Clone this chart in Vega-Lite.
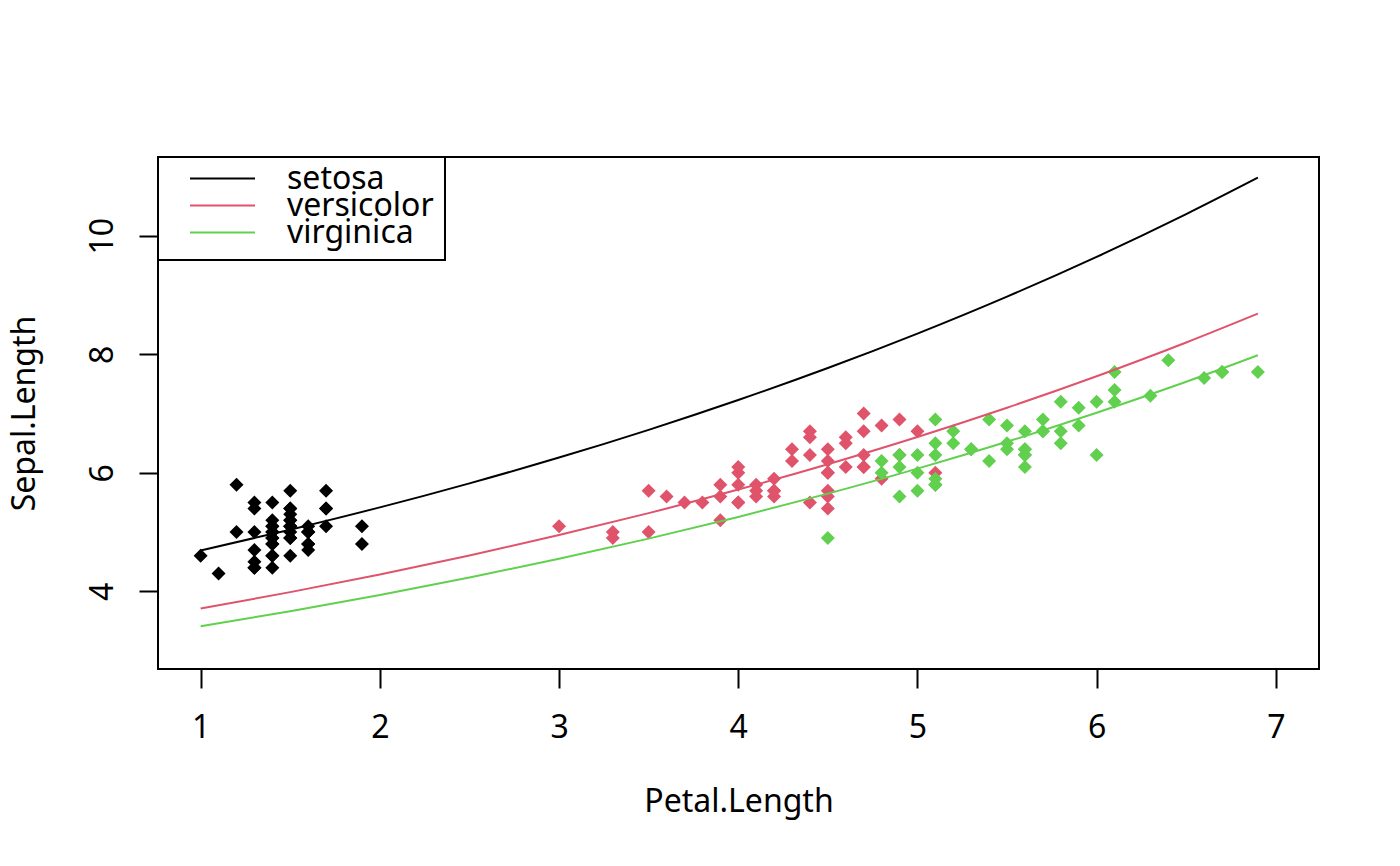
{
  "$schema": "https://vega.github.io/schema/vega-lite/v6.json",
  "width": 1161,
  "height": 512,
  "autosize": "none",
  "padding": {"left": 158, "top": 157, "right": 81, "bottom": 197},
  "background": "white",
  "datasets": {
    "iris": [
      {"species": "setosa", "petal": 1.4, "sepal": 5.1}, {"species": "setosa", "petal": 1.4, "sepal": 4.9},
      {"species": "setosa", "petal": 1.3, "sepal": 4.7}, {"species": "setosa", "petal": 1.5, "sepal": 4.6},
      {"species": "setosa", "petal": 1.4, "sepal": 5.0}, {"species": "setosa", "petal": 1.7, "sepal": 5.4},
      {"species": "setosa", "petal": 1.4, "sepal": 4.6}, {"species": "setosa", "petal": 1.5, "sepal": 5.0},
      {"species": "setosa", "petal": 1.4, "sepal": 4.4}, {"species": "setosa", "petal": 1.5, "sepal": 4.9},
      {"species": "setosa", "petal": 1.5, "sepal": 5.4}, {"species": "setosa", "petal": 1.6, "sepal": 4.8},
      {"species": "setosa", "petal": 1.4, "sepal": 4.8}, {"species": "setosa", "petal": 1.1, "sepal": 4.3},
      {"species": "setosa", "petal": 1.2, "sepal": 5.8}, {"species": "setosa", "petal": 1.5, "sepal": 5.7},
      {"species": "setosa", "petal": 1.3, "sepal": 5.4}, {"species": "setosa", "petal": 1.4, "sepal": 5.1},
      {"species": "setosa", "petal": 1.7, "sepal": 5.7}, {"species": "setosa", "petal": 1.5, "sepal": 5.1},
      {"species": "setosa", "petal": 1.7, "sepal": 5.4}, {"species": "setosa", "petal": 1.5, "sepal": 5.1},
      {"species": "setosa", "petal": 1.0, "sepal": 4.6}, {"species": "setosa", "petal": 1.7, "sepal": 5.1},
      {"species": "setosa", "petal": 1.9, "sepal": 4.8}, {"species": "setosa", "petal": 1.6, "sepal": 5.0},
      {"species": "setosa", "petal": 1.6, "sepal": 5.0}, {"species": "setosa", "petal": 1.5, "sepal": 5.2},
      {"species": "setosa", "petal": 1.4, "sepal": 5.2}, {"species": "setosa", "petal": 1.6, "sepal": 4.7},
      {"species": "setosa", "petal": 1.6, "sepal": 4.8}, {"species": "setosa", "petal": 1.5, "sepal": 5.4},
      {"species": "setosa", "petal": 1.5, "sepal": 5.2}, {"species": "setosa", "petal": 1.4, "sepal": 5.5},
      {"species": "setosa", "petal": 1.5, "sepal": 4.9}, {"species": "setosa", "petal": 1.2, "sepal": 5.0},
      {"species": "setosa", "petal": 1.3, "sepal": 5.5}, {"species": "setosa", "petal": 1.4, "sepal": 4.9},
      {"species": "setosa", "petal": 1.3, "sepal": 4.4}, {"species": "setosa", "petal": 1.5, "sepal": 5.1},
      {"species": "setosa", "petal": 1.3, "sepal": 5.0}, {"species": "setosa", "petal": 1.3, "sepal": 4.5},
      {"species": "setosa", "petal": 1.3, "sepal": 4.4}, {"species": "setosa", "petal": 1.6, "sepal": 5.0},
      {"species": "setosa", "petal": 1.9, "sepal": 5.1}, {"species": "setosa", "petal": 1.4, "sepal": 4.8},
      {"species": "setosa", "petal": 1.6, "sepal": 5.1}, {"species": "setosa", "petal": 1.4, "sepal": 4.6},
      {"species": "setosa", "petal": 1.5, "sepal": 5.3}, {"species": "setosa", "petal": 1.4, "sepal": 5.0},
      {"species": "versicolor", "petal": 4.7, "sepal": 7.0}, {"species": "versicolor", "petal": 4.5, "sepal": 6.4},
      {"species": "versicolor", "petal": 4.9, "sepal": 6.9}, {"species": "versicolor", "petal": 4.0, "sepal": 5.5},
      {"species": "versicolor", "petal": 4.6, "sepal": 6.5}, {"species": "versicolor", "petal": 4.5, "sepal": 5.7},
      {"species": "versicolor", "petal": 4.7, "sepal": 6.3}, {"species": "versicolor", "petal": 3.3, "sepal": 4.9},
      {"species": "versicolor", "petal": 4.6, "sepal": 6.6}, {"species": "versicolor", "petal": 3.9, "sepal": 5.2},
      {"species": "versicolor", "petal": 3.5, "sepal": 5.0}, {"species": "versicolor", "petal": 4.2, "sepal": 5.9},
      {"species": "versicolor", "petal": 4.0, "sepal": 6.0}, {"species": "versicolor", "petal": 4.7, "sepal": 6.1},
      {"species": "versicolor", "petal": 3.6, "sepal": 5.6}, {"species": "versicolor", "petal": 4.4, "sepal": 6.7},
      {"species": "versicolor", "petal": 4.5, "sepal": 5.6}, {"species": "versicolor", "petal": 4.1, "sepal": 5.8},
      {"species": "versicolor", "petal": 4.5, "sepal": 6.2}, {"species": "versicolor", "petal": 3.9, "sepal": 5.6},
      {"species": "versicolor", "petal": 4.8, "sepal": 5.9}, {"species": "versicolor", "petal": 4.0, "sepal": 6.1},
      {"species": "versicolor", "petal": 4.9, "sepal": 6.3}, {"species": "versicolor", "petal": 4.7, "sepal": 6.1},
      {"species": "versicolor", "petal": 4.3, "sepal": 6.4}, {"species": "versicolor", "petal": 4.4, "sepal": 6.6},
      {"species": "versicolor", "petal": 4.8, "sepal": 6.8}, {"species": "versicolor", "petal": 5.0, "sepal": 6.7},
      {"species": "versicolor", "petal": 4.5, "sepal": 6.0}, {"species": "versicolor", "petal": 3.5, "sepal": 5.7},
      {"species": "versicolor", "petal": 3.8, "sepal": 5.5}, {"species": "versicolor", "petal": 3.7, "sepal": 5.5},
      {"species": "versicolor", "petal": 3.9, "sepal": 5.8}, {"species": "versicolor", "petal": 5.1, "sepal": 6.0},
      {"species": "versicolor", "petal": 4.5, "sepal": 5.4}, {"species": "versicolor", "petal": 4.5, "sepal": 6.0},
      {"species": "versicolor", "petal": 4.7, "sepal": 6.7}, {"species": "versicolor", "petal": 4.4, "sepal": 6.3},
      {"species": "versicolor", "petal": 4.1, "sepal": 5.6}, {"species": "versicolor", "petal": 4.0, "sepal": 5.5},
      {"species": "versicolor", "petal": 4.4, "sepal": 5.5}, {"species": "versicolor", "petal": 4.6, "sepal": 6.1},
      {"species": "versicolor", "petal": 4.0, "sepal": 5.8}, {"species": "versicolor", "petal": 3.3, "sepal": 5.0},
      {"species": "versicolor", "petal": 4.2, "sepal": 5.6}, {"species": "versicolor", "petal": 4.2, "sepal": 5.7},
      {"species": "versicolor", "petal": 4.2, "sepal": 5.7}, {"species": "versicolor", "petal": 4.3, "sepal": 6.2},
      {"species": "versicolor", "petal": 3.0, "sepal": 5.1}, {"species": "versicolor", "petal": 4.1, "sepal": 5.7},
      {"species": "virginica", "petal": 6.0, "sepal": 6.3}, {"species": "virginica", "petal": 5.1, "sepal": 5.8},
      {"species": "virginica", "petal": 5.9, "sepal": 7.1}, {"species": "virginica", "petal": 5.6, "sepal": 6.3},
      {"species": "virginica", "petal": 5.8, "sepal": 6.5}, {"species": "virginica", "petal": 6.6, "sepal": 7.6},
      {"species": "virginica", "petal": 4.5, "sepal": 4.9}, {"species": "virginica", "petal": 6.3, "sepal": 7.3},
      {"species": "virginica", "petal": 5.8, "sepal": 6.7}, {"species": "virginica", "petal": 6.1, "sepal": 7.2},
      {"species": "virginica", "petal": 5.1, "sepal": 6.5}, {"species": "virginica", "petal": 5.3, "sepal": 6.4},
      {"species": "virginica", "petal": 5.5, "sepal": 6.8}, {"species": "virginica", "petal": 5.0, "sepal": 5.7},
      {"species": "virginica", "petal": 5.1, "sepal": 5.8}, {"species": "virginica", "petal": 5.3, "sepal": 6.4},
      {"species": "virginica", "petal": 5.5, "sepal": 6.5}, {"species": "virginica", "petal": 6.7, "sepal": 7.7},
      {"species": "virginica", "petal": 6.9, "sepal": 7.7}, {"species": "virginica", "petal": 5.0, "sepal": 6.0},
      {"species": "virginica", "petal": 5.7, "sepal": 6.9}, {"species": "virginica", "petal": 4.9, "sepal": 5.6},
      {"species": "virginica", "petal": 6.7, "sepal": 7.7}, {"species": "virginica", "petal": 4.9, "sepal": 6.3},
      {"species": "virginica", "petal": 5.7, "sepal": 6.7}, {"species": "virginica", "petal": 6.0, "sepal": 7.2},
      {"species": "virginica", "petal": 4.8, "sepal": 6.2}, {"species": "virginica", "petal": 4.9, "sepal": 6.1},
      {"species": "virginica", "petal": 5.6, "sepal": 6.4}, {"species": "virginica", "petal": 5.8, "sepal": 7.2},
      {"species": "virginica", "petal": 6.1, "sepal": 7.4}, {"species": "virginica", "petal": 6.4, "sepal": 7.9},
      {"species": "virginica", "petal": 5.6, "sepal": 6.4}, {"species": "virginica", "petal": 5.1, "sepal": 6.3},
      {"species": "virginica", "petal": 5.6, "sepal": 6.1}, {"species": "virginica", "petal": 6.1, "sepal": 7.7},
      {"species": "virginica", "petal": 5.6, "sepal": 6.3}, {"species": "virginica", "petal": 5.5, "sepal": 6.4},
      {"species": "virginica", "petal": 4.8, "sepal": 6.0}, {"species": "virginica", "petal": 5.4, "sepal": 6.9},
      {"species": "virginica", "petal": 5.6, "sepal": 6.7}, {"species": "virginica", "petal": 5.1, "sepal": 6.9},
      {"species": "virginica", "petal": 5.1, "sepal": 5.8}, {"species": "virginica", "petal": 5.9, "sepal": 6.8},
      {"species": "virginica", "petal": 5.7, "sepal": 6.7}, {"species": "virginica", "petal": 5.2, "sepal": 6.7},
      {"species": "virginica", "petal": 5.0, "sepal": 6.3}, {"species": "virginica", "petal": 5.2, "sepal": 6.5},
      {"species": "virginica", "petal": 5.4, "sepal": 6.2}, {"species": "virginica", "petal": 5.1, "sepal": 5.9}
    ],
    "fit": [
      {"species": "setosa", "petal": 1.0, "fit": 4.690}, {"species": "setosa", "petal": 1.5, "fit": 5.041},
      {"species": "setosa", "petal": 2.0, "fit": 5.417}, {"species": "setosa", "petal": 2.5, "fit": 5.823},
      {"species": "setosa", "petal": 3.0, "fit": 6.258}, {"species": "setosa", "petal": 3.5, "fit": 6.726},
      {"species": "setosa", "petal": 4.0, "fit": 7.229}, {"species": "setosa", "petal": 4.5, "fit": 7.769},
      {"species": "setosa", "petal": 5.0, "fit": 8.350}, {"species": "setosa", "petal": 5.5, "fit": 8.974},
      {"species": "setosa", "petal": 6.0, "fit": 9.645}, {"species": "setosa", "petal": 6.5, "fit": 10.366},
      {"species": "setosa", "petal": 6.9, "fit": 10.981},
      {"species": "versicolor", "petal": 1.0, "fit": 3.710}, {"species": "versicolor", "petal": 1.5, "fit": 3.987},
      {"species": "versicolor", "petal": 2.0, "fit": 4.286}, {"species": "versicolor", "petal": 2.5, "fit": 4.606},
      {"species": "versicolor", "petal": 3.0, "fit": 4.950}, {"species": "versicolor", "petal": 3.5, "fit": 5.320},
      {"species": "versicolor", "petal": 4.0, "fit": 5.718}, {"species": "versicolor", "petal": 4.5, "fit": 6.146},
      {"species": "versicolor", "petal": 5.0, "fit": 6.605}, {"species": "versicolor", "petal": 5.5, "fit": 7.099},
      {"species": "versicolor", "petal": 6.0, "fit": 7.630}, {"species": "versicolor", "petal": 6.5, "fit": 8.200},
      {"species": "versicolor", "petal": 6.9, "fit": 8.687},
      {"species": "virginica", "petal": 1.0, "fit": 3.410}, {"species": "virginica", "petal": 1.5, "fit": 3.665},
      {"species": "virginica", "petal": 2.0, "fit": 3.939}, {"species": "virginica", "petal": 2.5, "fit": 4.234},
      {"species": "virginica", "petal": 3.0, "fit": 4.550}, {"species": "virginica", "petal": 3.5, "fit": 4.890},
      {"species": "virginica", "petal": 4.0, "fit": 5.256}, {"species": "virginica", "petal": 4.5, "fit": 5.649},
      {"species": "virginica", "petal": 5.0, "fit": 6.071}, {"species": "virginica", "petal": 5.5, "fit": 6.525},
      {"species": "virginica", "petal": 6.0, "fit": 7.013}, {"species": "virginica", "petal": 6.5, "fit": 7.537},
      {"species": "virginica", "petal": 6.9, "fit": 7.984}
    ]
  },
  "layer": [
    {
      "data": {"name": "iris"},
      "mark": {"type": "point", "shape": "diamond", "filled": true, "size": 196, "opacity": 1, "strokeWidth": 0},
      "encoding": {
        "x": {
          "field": "petal",
          "type": "quantitative",
          "title": "Petal.Length",
          "scale": {"domain": [0.762, 7.241], "nice": false, "zero": false},
          "axis": {
            "values": [1, 2, 3, 4, 5, 6, 7],
            "format": "d",
            "labelBaseline": "alphabetic",
            "labelPadding": 49,
            "titleBaseline": "alphabetic",
            "titlePadding": 68
          }
        },
        "y": {
          "field": "sepal",
          "type": "quantitative",
          "title": "Sepal.Length",
          "scale": {"domain": [2.69, 11.33], "nice": false, "zero": false},
          "axis": {
            "values": [4, 6, 8, 10],
            "format": "d",
            "labelAngle": -90,
            "labelAlign": "center",
            "labelBaseline": "alphabetic",
            "labelPadding": 27,
            "titleBaseline": "alphabetic",
            "titlePadding": 52
          }
        },
        "fill": {
          "field": "species",
          "type": "nominal",
          "scale": {"domain": ["virginica", "versicolor", "setosa"], "range": ["#61D04F", "#DF536B", "#000000"]},
          "legend": null
        }
      }
    },
    {
      "data": {"name": "fit"},
      "mark": {"type": "line", "strokeWidth": 2, "interpolate": "monotone"},
      "encoding": {
        "x": {"field": "petal", "type": "quantitative"},
        "y": {"field": "fit", "type": "quantitative"},
        "stroke": {
          "field": "species",
          "type": "nominal",
          "scale": {"domain": ["setosa", "versicolor", "virginica"], "range": ["#000000", "#DF536B", "#61D04F"]},
          "legend": {
            "title": null,
            "orient": "top-left",
            "offset": 0,
            "symbolType": "stroke",
            "symbolSize": 4225,
            "symbolStrokeWidth": 2,
            "symbolOffset": 20,
            "labelOffset": 31,
            "labelFontSize": 32,
            "labelFont": "Noto Sans",
            "labelColor": "black",
            "labelBaseline": "middle",
            "labelLimit": 400,
            "labelExpr": "datum.label + '\u00a0\u00a0\u00a0'",
            "clipHeight": 21,
            "strokeColor": "black",
            "padding": 11,
            "rowPadding": -17,
            "encode": {"legend": {"update": {"strokeWidth": {"value": 2}}}}
          }
        }
      }
    }
  ],
  "config": {
    "font": "Noto Sans",
    "view": {"stroke": "black", "strokeWidth": 2},
    "legend": {"rowPadding": -17},
    "axis": {
      "domain": false,
      "grid": false,
      "ticks": true,
      "tickSize": 19,
      "tickWidth": 2,
      "tickColor": "black",
      "labelFont": "Noto Sans",
      "labelFontSize": 32,
      "labelColor": "black",
      "labelFlush": false,
      "labelOverlap": false,
      "titleFont": "Noto Sans",
      "titleFontSize": 32,
      "titleFontWeight": "normal",
      "titleColor": "black"
    }
  }
}
